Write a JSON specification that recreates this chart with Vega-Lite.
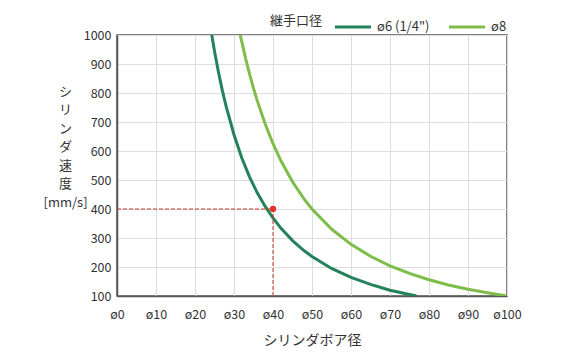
{
  "$schema": "https://vega.github.io/schema/vega-lite/v6.json",
  "autosize": "none",
  "width": 390,
  "height": 261,
  "padding": {"left": 117, "top": 35, "right": 69, "bottom": 64},
  "background": "white",
  "config": {
    "font": "Noto Sans CJK JP",
    "view": {"stroke": "#555", "strokeWidth": 1.5},
    "axis": {"labelFont": "Noto Sans CJK JP", "titleFont": "Noto Sans CJK JP", "labelColor": "#333", "titleColor": "#333", "labelFontSize": 12.5, "titleFontSize": 14, "titleFontWeight": "normal", "ticks": false, "domainColor": "#555", "domainWidth": 1.5, "gridColor": "#dddddd", "gridWidth": 1, "labelOverlap": false, "labelFlush": false}
  },
  "datasets": {
    "curves": [
      {"s": "ø6 (1/4\")", "d": 24.3, "v": 1000},
      {"s": "ø6 (1/4\")", "d": 25, "v": 944},
      {"s": "ø6 (1/4\")", "d": 26, "v": 873},
      {"s": "ø6 (1/4\")", "d": 27, "v": 809},
      {"s": "ø6 (1/4\")", "d": 28, "v": 753},
      {"s": "ø6 (1/4\")", "d": 30, "v": 656},
      {"s": "ø6 (1/4\")", "d": 32, "v": 576},
      {"s": "ø6 (1/4\")", "d": 34, "v": 510},
      {"s": "ø6 (1/4\")", "d": 36, "v": 455},
      {"s": "ø6 (1/4\")", "d": 38, "v": 409},
      {"s": "ø6 (1/4\")", "d": 40, "v": 369},
      {"s": "ø6 (1/4\")", "d": 42, "v": 334},
      {"s": "ø6 (1/4\")", "d": 45, "v": 291},
      {"s": "ø6 (1/4\")", "d": 48, "v": 256},
      {"s": "ø6 (1/4\")", "d": 50, "v": 236},
      {"s": "ø6 (1/4\")", "d": 55, "v": 195},
      {"s": "ø6 (1/4\")", "d": 60, "v": 164},
      {"s": "ø6 (1/4\")", "d": 65, "v": 140},
      {"s": "ø6 (1/4\")", "d": 70, "v": 120},
      {"s": "ø6 (1/4\")", "d": 75, "v": 105},
      {"s": "ø6 (1/4\")", "d": 76.8, "v": 100},
      {"s": "ø8", "d": 31.6, "v": 1000},
      {"s": "ø8", "d": 32, "v": 977},
      {"s": "ø8", "d": 33, "v": 918},
      {"s": "ø8", "d": 34, "v": 865},
      {"s": "ø8", "d": 35, "v": 816},
      {"s": "ø8", "d": 36, "v": 772},
      {"s": "ø8", "d": 38, "v": 693},
      {"s": "ø8", "d": 40, "v": 625},
      {"s": "ø8", "d": 42, "v": 567},
      {"s": "ø8", "d": 45, "v": 494},
      {"s": "ø8", "d": 48, "v": 434},
      {"s": "ø8", "d": 50, "v": 400},
      {"s": "ø8", "d": 55, "v": 331},
      {"s": "ø8", "d": 60, "v": 278},
      {"s": "ø8", "d": 65, "v": 237},
      {"s": "ø8", "d": 70, "v": 204},
      {"s": "ø8", "d": 75, "v": 178},
      {"s": "ø8", "d": 80, "v": 156},
      {"s": "ø8", "d": 85, "v": 138},
      {"s": "ø8", "d": 90, "v": 123},
      {"s": "ø8", "d": 95, "v": 111},
      {"s": "ø8", "d": 100, "v": 100}
    ],
    "guides": [
      {"d": 0, "d2": 40, "v": 400, "v2": 400},
      {"d": 40, "d2": 40, "v": 100, "v2": 400}
    ],
    "pt": [{"d": 40, "v": 400}]
  },
  "encoding": {
    "x": {"field": "d", "type": "quantitative", "scale": {"domain": [0, 100], "nice": false},
      "axis": {"values": [0,10,20,30,40,50,60,70,80,90,100], "tickCount": 30, "labelExpr": "'ø' + datum.value", "title": "シリンダボア径", "labelPadding": 12, "titlePadding": 13, "grid": true}},
    "y": {"field": "v", "type": "quantitative", "scale": {"domain": [100, 1000], "nice": false, "zero": false},
      "axis": {"values": [100,200,300,400,500,600,700,800,900,1000], "tickCount": 30, "format": "d", "title": ["シ","リ","ン","ダ","速","度","[mm/s]"], "titleAngle": 0, "titleAlign": "center", "titleBaseline": "top", "titleX": -52, "titleY": 50, "titleFontSize": 13, "titleLineHeight": 18.5, "labelPadding": 6, "grid": true}}
  },
  "layer": [
    {
      "data": {"name": "curves"},
      "mark": {"type": "line", "strokeWidth": 3, "clip": true},
      "encoding": {
        "color": {"field": "s", "type": "nominal",
          "scale": {"domain": ["ø6 (1/4\")", "ø8"], "range": ["#23825a", "#7fbd4b"]},
          "legend": {"title": "継手口径", "orient": "none", "direction": "horizontal", "legendX": 153, "legendY": -28, "titleOrient": "left", "titleFontSize": 13, "titleFontWeight": "normal", "titleColor": "#333", "labelFontSize": 13, "labelColor": "#333", "symbolType": "stroke", "symbolSize": 1300, "symbolStrokeWidth": 3, "columnPadding": 12, "labelOffset": 4, "titlePadding": 10}}
      }
    },
    {
      "data": {"name": "guides"},
      "mark": {"type": "rule", "color": "#c0392b", "strokeWidth": 1, "strokeDash": [4, 2]},
      "encoding": {
        "x2": {"field": "d2"},
        "y2": {"field": "v2"}
      }
    },
    {
      "data": {"name": "pt"},
      "mark": {"type": "point", "filled": true, "color": "#e8302a", "size": 40, "opacity": 1},
      "encoding": {}
    }
  ]
}
